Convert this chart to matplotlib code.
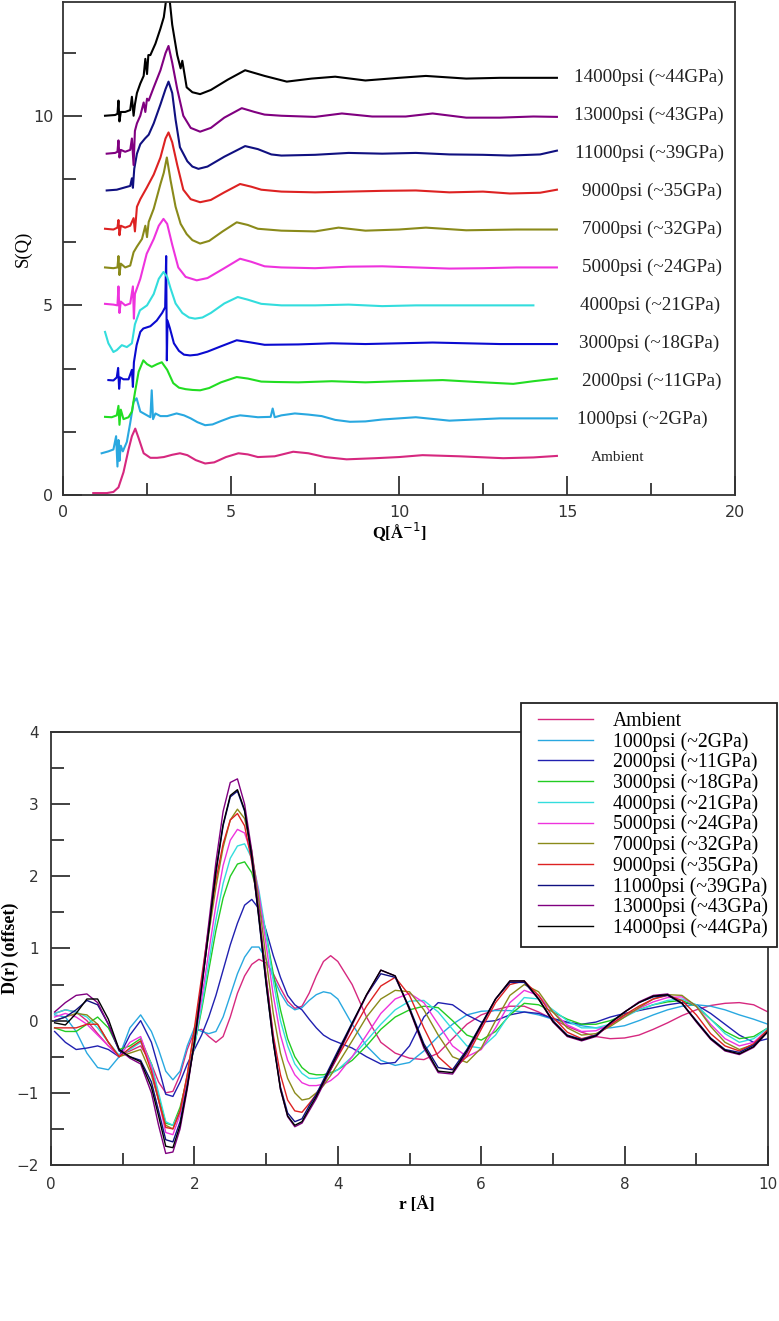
import matplotlib
matplotlib.use("Agg")
import matplotlib.pyplot as plt
from matplotlib.ticker import MultipleLocator
from matplotlib.lines import Line2D
from matplotlib.legend_handler import HandlerLine2D

# ---- top panel: S(Q), each curve shifted up by its offset ----
labels = ["Ambient", "1000psi (~2GPa)", "2000psi (~11GPa)", "3000psi (~18GPa)",
          "4000psi (~21GPa)", "5000psi (~24GPa)", "7000psi (~32GPa)",
          "9000psi (~35GPa)", "11000psi (~39GPa)", "13000psi (~43GPa)",
          "14000psi (~44GPa)"]
offsets = [0, 1, 2, 3, 4, 5, 6, 7, 8, 9, 10]

top_colors = ["#d6287f", "#29a8e0", "#22dd22", "#0a0ad0", "#33dddd", "#ee33dd",
              "#8a8a1a", "#dd2222", "#101080", "#800080", "#000000"]
bot_colors = ["#d6287f", "#29a8e0", "#2020b0", "#22cc22", "#33dddd", "#ee33dd",
              "#8a8a1a", "#dd2222", "#101080", "#800080", "#000000"]

q_amb = [0.9, 1.3, 1.5, 1.65, 1.8, 1.95, 2.05, 2.15, 2.25, 2.4, 2.6, 2.8, 3.0, 3.25, 3.48,
         3.7, 3.95, 4.23, 4.5, 4.85, 5.22, 5.5, 5.8, 6.3, 6.85, 7.3, 7.8, 8.44, 9.3, 10.0,
         10.7, 11.8, 13.1, 14.0, 14.7]
s_amb = [0.05, 0.05, 0.08, 0.2, 0.6, 1.2, 1.55, 1.75, 1.5, 1.1, 0.98, 0.98, 1.0, 1.06, 1.1,
         1.05, 0.92, 0.83, 0.86, 1.0, 1.1, 1.07, 1.0, 1.02, 1.14, 1.1, 1.0, 0.94, 0.97, 1.0,
         1.05, 1.02, 0.97, 0.99, 1.03]

q_1000 = [1.15, 1.35, 1.5, 1.58, 1.62, 1.65, 1.68, 1.72, 1.78, 1.9, 2.0, 2.1, 2.19, 2.3, 2.5,
          2.6, 2.64, 2.68, 2.75, 2.9, 3.1, 3.38, 3.6, 3.8, 4.0, 4.23, 4.45, 4.7, 5.0, 5.27,
          5.5, 5.8, 6.18, 6.24, 6.3, 6.5, 6.9, 7.3, 7.7, 8.1, 8.54, 9.0, 9.5, 10.0, 10.5,
          11.5, 13.0, 14.7]
s_1000 = [0.1, 0.15, 0.2, 0.55, -0.25, 0.45, -0.1, 0.3, 0.15, 0.4, 0.9, 1.45, 1.55, 1.2, 1.1,
          1.05, 1.76, 1.0, 1.15, 1.08, 1.08, 1.15, 1.1, 1.02, 0.92, 0.84, 0.86, 0.95, 1.05, 1.1,
          1.08, 1.05, 1.06, 1.28, 1.05, 1.1, 1.15, 1.12, 1.08, 0.98, 0.93, 0.94, 0.99, 1.02,
          1.05, 0.96, 1.02, 1.02]

q_2000 = [1.25, 1.45, 1.6, 1.65, 1.68, 1.72, 1.8, 1.95, 2.05, 2.14, 2.25, 2.39, 2.5, 2.64,
          2.8, 2.94, 3.1, 3.28, 3.45, 3.65, 3.85, 4.08, 4.35, 4.7, 5.17, 5.5, 5.9, 6.3, 7.0,
          8.0, 9.0, 10.0, 11.3, 12.3, 13.4, 14.0, 14.7]
s_2000 = [0.06, 0.05, 0.1, 0.35, -0.15, 0.25, 0.0, 0.05, 0.2, 0.7, 1.25, 1.55, 1.45, 1.38,
          1.45, 1.5, 1.3, 0.95, 0.83, 0.79, 0.77, 0.76, 0.82, 0.97, 1.11, 1.07, 0.99, 0.98,
          0.97, 1.0, 0.97, 1.0, 1.03, 0.98, 0.93, 1.0, 1.07]

q_3000 = [1.35, 1.5, 1.6, 1.64, 1.67, 1.7, 1.8, 1.95, 2.05, 2.08, 2.11, 2.19, 2.3, 2.39, 2.6,
          2.79, 2.95, 3.04, 3.07, 3.09, 3.11, 3.18, 3.3, 3.45, 3.6, 3.78, 4.0, 4.3, 4.7, 5.17,
          5.6, 6.0, 7.0, 8.0, 9.0, 10.0, 11.0, 12.0, 13.0, 14.7]
s_3000 = [0.03, 0.02, 0.1, 0.35, -0.2, 0.1, 0.05, 0.05, 0.3, -0.15, 0.5, 0.95, 1.3, 1.39, 1.45,
          1.6, 1.8, 1.95, 3.3, 0.55, 1.6, 1.4, 1.0, 0.8, 0.7, 0.68, 0.7, 0.78, 0.92, 1.08,
          1.02, 0.96, 0.97, 1.0, 0.98, 1.0, 1.02, 1.0, 0.98, 0.98]

q_4000 = [1.25, 1.35, 1.5, 1.6, 1.75, 1.9, 2.05, 2.14, 2.29, 2.5, 2.7, 2.85, 2.99, 3.1, 3.2,
          3.35, 3.55, 3.75, 3.93, 4.15, 4.4, 4.8, 5.2, 5.5, 5.9, 6.5, 7.5, 8.5, 9.5, 10.5,
          11.5, 12.5, 13.3, 14.0]
s_4000 = [0.3, 0.0, -0.23, -0.18, -0.05, -0.1, 0.0, 0.5, 0.87, 1.0, 1.3, 1.7, 1.88, 1.75, 1.45,
          1.05, 0.8, 0.68, 0.65, 0.68, 0.8, 1.05, 1.22, 1.15, 1.04, 1.0, 1.0, 1.02, 0.98, 1.0,
          1.0, 1.0, 1.0, 1.0]

q_5000 = [1.25, 1.5, 1.62, 1.65, 1.68, 1.72, 1.85, 2.0, 2.08, 2.11, 2.14, 2.3, 2.49, 2.7, 2.85,
          2.99, 3.1, 3.25, 3.43, 3.65, 3.98, 4.3, 4.8, 5.27, 5.6, 6.0, 6.5, 7.5, 8.5, 9.5,
          10.5, 11.5, 12.5, 13.5, 14.7]
s_5000 = [0.04, 0.02, 0.0, 0.5, -0.2, 0.1, 0.0, 0.05, 0.5, -0.35, 0.3, 0.7, 1.36, 1.75, 2.1,
          2.28, 2.15, 1.6, 1.0, 0.75, 0.66, 0.72, 0.98, 1.23, 1.15, 1.03, 1.0, 0.98, 1.02, 1.03,
          1.0, 0.97, 0.98, 1.0, 1.0]

q_7000 = [1.25, 1.5, 1.62, 1.65, 1.68, 1.72, 1.85, 2.0, 2.1, 2.2, 2.35, 2.45, 2.5, 2.55, 2.7,
          2.9, 3.0, 3.09, 3.2, 3.35, 3.5, 3.68, 3.85, 4.08, 4.35, 4.75, 5.17, 5.5, 5.8, 6.5,
          7.5, 8.2, 9.0, 10.0, 10.8, 12.0, 13.5, 14.7]
s_7000 = [0.0, -0.02, 0.0, 0.3, -0.2, 0.1, 0.0, 0.05, 0.4, 0.55, 0.75, 1.1, 0.8, 1.2, 1.55,
          2.2, 2.5, 2.9, 2.3, 1.6, 1.15, 0.88, 0.72, 0.63, 0.7, 0.95, 1.19, 1.12, 1.02, 0.97,
          0.95, 1.05, 0.97, 1.0, 1.05, 0.98, 1.0, 1.0]

q_9000 = [1.25, 1.5, 1.62, 1.65, 1.68, 1.72, 1.85, 2.0, 2.1, 2.14, 2.2, 2.3, 2.49, 2.7, 2.9,
          3.05, 3.14, 3.25, 3.4, 3.58, 3.8, 4.08, 4.4, 4.8, 5.27, 5.6, 5.9, 6.5, 7.5, 8.5,
          9.5, 10.5, 11.5, 12.5, 13.3, 14.2, 14.7]
s_9000 = [0.02, 0.0, 0.05, 0.25, -0.15, 0.1, 0.05, 0.1, 0.3, -0.05, 0.6, 0.8, 1.1, 1.45, 1.9,
          2.4, 2.56, 2.3, 1.7, 1.05, 0.8, 0.72, 0.78, 0.98, 1.2, 1.13, 1.05, 1.0, 0.98, 1.0,
          1.02, 1.03, 0.98, 1.0, 0.95, 0.97, 1.05]

q_11000 = [1.3, 1.6, 1.8, 2.0, 2.05, 2.08, 2.12, 2.2, 2.3, 2.44, 2.55, 2.7, 2.9, 3.05, 3.14,
           3.25, 3.35, 3.48, 3.7, 3.85, 4.03, 4.3, 4.8, 5.42, 5.8, 6.2, 6.5, 7.5, 8.5, 9.5,
           10.5, 11.5, 12.5, 13.3, 14.2, 14.7]
s_11000 = [0.03, 0.05, 0.1, 0.15, 0.35, 0.1, 0.6, 1.0, 1.25, 1.4, 1.5, 1.8, 2.3, 2.7, 2.9,
           2.6, 1.9, 1.17, 0.8, 0.66, 0.6, 0.66, 0.92, 1.2, 1.12, 0.98, 0.95, 0.97, 1.02, 1.0,
           1.02, 0.98, 0.97, 0.95, 0.98, 1.08]

q_13000 = [1.3, 1.55, 1.62, 1.65, 1.68, 1.72, 1.85, 2.0, 2.05, 2.1, 2.14, 2.2, 2.3, 2.4, 2.45,
           2.5, 2.55, 2.7, 2.9, 3.05, 3.14, 3.25, 3.4, 3.58, 3.8, 4.08, 4.4, 4.8, 5.32, 5.7,
           6.0, 6.5, 7.5, 8.3, 9.2, 10.2, 11.0, 12.0, 13.0, 14.0, 14.7]
s_13000 = [0.0, 0.02, 0.05, 0.35, -0.1, 0.1, 0.05, 0.1, 0.4, -0.3, 0.6, 0.8, 1.0, 1.35, 1.1,
           1.45, 1.4, 1.75, 2.2, 2.65, 2.84, 2.4, 1.7, 1.0, 0.68, 0.58, 0.68, 0.95, 1.2, 1.1,
           1.03, 1.0, 0.97, 1.06, 0.98, 0.98, 1.06, 0.95, 0.95, 0.98, 0.97]

q_14000 = [1.25, 1.55, 1.62, 1.65, 1.68, 1.72, 1.85, 2.0, 2.05, 2.1, 2.14, 2.2, 2.3, 2.4,
           2.45, 2.5, 2.54, 2.6, 2.75, 2.9, 3.0, 3.06, 3.1, 3.14, 3.18, 3.25, 3.4, 3.5, 3.55,
           3.68, 3.85, 4.08, 4.4, 4.9, 5.42, 6.0, 6.66, 7.4, 8.1, 9.0, 10.0, 10.8, 12.0, 13.0,
           14.0, 14.7]
s_14000 = [0.0, 0.02, 0.05, 0.4, -0.15, 0.1, 0.1, 0.15, 0.5, 0.0, 0.3, 0.6, 0.85, 1.05, 1.5,
           1.1, 1.6, 1.6, 1.9, 2.3, 2.6, 3.0, 3.2, 3.2, 3.0, 2.4, 1.6, 1.25, 1.45, 0.75, 0.62,
           0.57, 0.68, 0.95, 1.2, 1.05, 0.9, 0.98, 1.03, 0.93, 1.0, 1.05, 0.98, 1.0, 1.0, 1.0]

q_list = [q_amb, q_1000, q_2000, q_3000, q_4000, q_5000, q_7000, q_9000, q_11000, q_13000, q_14000]
s_list = [s_amb, s_1000, s_2000, s_3000, s_4000, s_5000, s_7000, s_9000, s_11000, s_13000, s_14000]

# where the text labels sit next to the curves
label_x = [15.7, 15.3, 15.45, 15.35, 15.4, 15.45, 15.45, 15.45, 15.25, 15.2, 15.2]

# ---- bottom panel: D(r) ----
r = [0.05, 0.2, 0.35, 0.5, 0.65, 0.8, 0.95, 1.1, 1.25, 1.4, 1.5, 1.6, 1.7, 1.8, 1.9, 2.0,
     2.1, 2.2, 2.3, 2.4, 2.5, 2.6, 2.7, 2.8, 2.9, 3.0, 3.1, 3.2, 3.3, 3.4, 3.5, 3.6, 3.7,
     3.8, 3.9, 4.0, 4.2, 4.4, 4.6, 4.8, 5.0, 5.2, 5.4, 5.6, 5.8, 6.0, 6.2, 6.4, 6.6, 6.8,
     7.0, 7.2, 7.4, 7.6, 7.8, 8.0, 8.2, 8.4, 8.6, 8.8, 9.0, 9.2, 9.4, 9.6, 9.8, 10.0]

d_amb = [0.1, 0.15, 0.12, 0.0, -0.18, -0.35, -0.48, -0.42, -0.35, -0.6, -0.85, -1.0, -0.98,
         -0.75, -0.4, -0.15, -0.12, -0.22, -0.3, -0.22, 0.05, 0.38, 0.62, 0.78, 0.85, 0.8,
         0.65, 0.45, 0.27, 0.17, 0.2, 0.38, 0.62, 0.82, 0.9, 0.82, 0.5, 0.05, -0.3, -0.45,
         -0.52, -0.54, -0.45, -0.25, -0.05, 0.08, 0.15, 0.2, 0.2, 0.12, 0.02, -0.08, -0.16,
         -0.22, -0.25, -0.24, -0.2, -0.12, -0.03, 0.07, 0.15, 0.21, 0.24, 0.25, 0.22, 0.12]
d_1000 = [0.08, 0.05, -0.15, -0.45, -0.65, -0.68, -0.5, -0.1, 0.08, -0.15, -0.4, -0.7, -0.82,
          -0.7, -0.35, -0.1, -0.15, -0.18, -0.15, 0.05, 0.35, 0.65, 0.88, 1.02, 1.02, 0.85,
          0.6, 0.38, 0.22, 0.15, 0.18, 0.28, 0.36, 0.4, 0.38, 0.3, -0.05, -0.35, -0.55, -0.62,
          -0.58, -0.42, -0.22, -0.05, 0.08, 0.13, 0.14, 0.14, 0.12, 0.08, 0.02, -0.03, -0.07,
          -0.1, -0.1, -0.07, 0.0, 0.08, 0.15, 0.2, 0.22, 0.2, 0.15, 0.08, 0.02, -0.05]
d_2000 = [-0.15, -0.3, -0.4, -0.38, -0.35, -0.4, -0.5, -0.2, 0.0, -0.3, -0.65, -1.02, -1.05,
          -0.85, -0.6, -0.4, -0.2, 0.05, 0.35, 0.7, 1.05, 1.35, 1.6, 1.68, 1.55, 1.25, 0.9,
          0.6, 0.35, 0.22, 0.15, 0.02, -0.1, -0.2, -0.26, -0.3, -0.38, -0.5, -0.6, -0.58,
          -0.35, 0.05, 0.25, 0.22, 0.08, -0.02, 0.0, 0.08, 0.12, 0.1, 0.03, -0.02, -0.05,
          -0.02, 0.05, 0.1, 0.14, 0.18, 0.22, 0.25, 0.22, 0.1, -0.05, -0.2, -0.3, -0.25]
d_3000 = [-0.1, -0.15, -0.15, -0.05, 0.05, -0.1, -0.4, -0.35, -0.25, -0.6, -1.05, -1.42, -1.45,
          -1.2, -0.8, -0.35, 0.15, 0.7, 1.25, 1.7, 2.0, 2.17, 2.2, 2.05, 1.7, 1.2, 0.65, 0.15,
          -0.25, -0.5, -0.65, -0.73, -0.75, -0.75, -0.72, -0.68, -0.55, -0.35, -0.12, 0.05,
          0.15, 0.2, 0.18, 0.0, -0.2, -0.27, -0.15, 0.08, 0.24, 0.22, 0.12, 0.02, -0.05, -0.05,
          0.0, 0.08, 0.15, 0.22, 0.26, 0.28, 0.2, 0.02, -0.15, -0.25, -0.22, -0.1]
d_4000 = [0.1, 0.15, 0.12, 0.05, -0.1, -0.3, -0.48, -0.4, -0.3, -0.6, -1.0, -1.4, -1.45,
          -1.25, -0.85, -0.35, 0.2, 0.8, 1.4, 1.9, 2.25, 2.42, 2.45, 2.25, 1.8, 1.2, 0.55, 0.0,
          -0.35, -0.6, -0.73, -0.8, -0.8, -0.78, -0.74, -0.68, -0.5, -0.28, -0.05, 0.15, 0.27,
          0.28, 0.12, -0.12, -0.35, -0.38, -0.2, 0.1, 0.32, 0.3, 0.15, 0.0, -0.1, -0.1, -0.05,
          0.05, 0.15, 0.22, 0.28, 0.3, 0.22, 0.02, -0.18, -0.3, -0.25, -0.1]
d_5000 = [0.05, 0.1, 0.05, -0.05, -0.2, -0.35, -0.5, -0.3, -0.22, -0.65, -1.1, -1.55, -1.58,
          -1.3, -0.85, -0.3, 0.3, 0.95, 1.6, 2.15, 2.5, 2.65, 2.6, 2.3, 1.75, 1.05, 0.35, -0.2,
          -0.55, -0.75, -0.86, -0.9, -0.9, -0.88, -0.83, -0.75, -0.5, -0.2, 0.1, 0.3, 0.38,
          0.25, -0.05, -0.35, -0.5, -0.4, -0.1, 0.25, 0.42, 0.35, 0.12, -0.06, -0.15, -0.14,
          -0.05, 0.06, 0.17, 0.26, 0.32, 0.33, 0.2, -0.05, -0.25, -0.35, -0.3, -0.12]
d_7000 = [0.0, 0.05, 0.1, 0.08, -0.05, -0.3, -0.5, -0.45, -0.4, -0.75, -1.1, -1.45, -1.5,
          -1.25, -0.75, -0.15, 0.5, 1.2, 1.85, 2.4, 2.78, 2.93, 2.8, 2.35, 1.65, 0.85, 0.1,
          -0.45, -0.8, -1.0, -1.1, -1.08, -1.0, -0.9, -0.76, -0.6, -0.28, 0.05, 0.3, 0.42, 0.4,
          0.15, -0.2, -0.5, -0.58, -0.38, 0.0, 0.35, 0.5, 0.4, 0.12, -0.1, -0.2, -0.18, -0.08,
          0.05, 0.18, 0.3, 0.36, 0.35, 0.2, -0.08, -0.3, -0.4, -0.33, -0.12]
d_9000 = [-0.1, -0.1, -0.1, -0.05, -0.05, -0.3, -0.5, -0.38, -0.28, -0.7, -1.1, -1.48, -1.5,
          -1.25, -0.75, -0.1, 0.6, 1.3, 1.95, 2.45, 2.78, 2.87, 2.7, 2.2, 1.45, 0.6, -0.2,
          -0.75, -1.1, -1.25, -1.27, -1.15, -1.02, -0.85, -0.68, -0.5, -0.15, 0.2, 0.48, 0.6,
          0.35, -0.1, -0.5, -0.68, -0.5, -0.12, 0.25, 0.5, 0.55, 0.35, 0.05, -0.16, -0.25,
          -0.2, -0.06, 0.08, 0.2, 0.3, 0.35, 0.28, 0.08, -0.18, -0.35, -0.42, -0.32, -0.13]
d_11000 = [0.0, 0.05, 0.15, 0.28, 0.22, -0.05, -0.42, -0.5, -0.55, -0.85, -1.25, -1.65, -1.68,
           -1.4, -0.9, -0.3, 0.45, 1.25, 2.05, 2.7, 3.1, 3.18, 2.9, 2.25, 1.4, 0.5, -0.3,
           -0.92, -1.28, -1.4, -1.36, -1.18, -1.02, -0.82, -0.62, -0.42, -0.03, 0.35, 0.65,
           0.6, 0.18, -0.32, -0.65, -0.68, -0.4, -0.05, 0.3, 0.53, 0.53, 0.3, 0.0, -0.2, -0.26,
           -0.2, -0.03, 0.12, 0.25, 0.33, 0.35, 0.24, 0.0, -0.24, -0.4, -0.44, -0.34, -0.15]
d_13000 = [0.12, 0.25, 0.35, 0.37, 0.25, -0.05, -0.4, -0.52, -0.6, -1.0, -1.45, -1.84, -1.82,
           -1.5, -0.95, -0.3, 0.5, 1.35, 2.2, 2.9, 3.3, 3.35, 3.0, 2.35, 1.5, 0.6, -0.25,
           -0.95, -1.33, -1.47, -1.42, -1.25, -1.08, -0.88, -0.68, -0.48, -0.06, 0.35, 0.7,
           0.62, 0.15, -0.38, -0.72, -0.74, -0.45, -0.08, 0.3, 0.55, 0.55, 0.3, -0.02, -0.22,
           -0.28, -0.22, -0.04, 0.12, 0.26, 0.35, 0.37, 0.24, -0.02, -0.26, -0.42, -0.47,
           -0.37, -0.15]
d_14000 = [-0.03, -0.06, 0.1, 0.3, 0.3, 0.02, -0.4, -0.5, -0.57, -0.92, -1.32, -1.74, -1.76,
           -1.45, -0.92, -0.3, 0.45, 1.25, 2.08, 2.72, 3.12, 3.2, 2.92, 2.28, 1.42, 0.52, -0.3,
           -0.95, -1.32, -1.45, -1.4, -1.22, -1.05, -0.85, -0.65, -0.45, -0.04, 0.36, 0.7,
           0.62, 0.16, -0.35, -0.7, -0.72, -0.42, -0.06, 0.3, 0.55, 0.55, 0.3, -0.01, -0.21,
           -0.27, -0.21, -0.03, 0.12, 0.25, 0.34, 0.36, 0.24, -0.01, -0.25, -0.41, -0.46,
           -0.36, -0.15]

d_list = [d_amb, d_1000, d_2000, d_3000, d_4000, d_5000, d_7000, d_9000, d_11000, d_13000, d_14000]

plt.rcParams["font.family"] = ["Liberation Serif", "DejaVu Serif"]

fig = plt.figure(figsize=(7.79, 13.21), dpi=100)

# top axes
ax1 = fig.add_axes([0.0809, 0.6253, 0.8626, 0.3732])
for q, s, off, c in zip(q_list, s_list, offsets, top_colors):
    ax1.plot(q, [v + off for v in s], color=c, lw=1.5)
for lab, off, lx in zip(labels, offsets, label_x):
    fs = 11 if lab == "Ambient" else 13.8
    ax1.text(lx, off + 1.0, lab, fontsize=fs, va="center", ha="left", color="#222222")
ax1.set_xlim(0, 20)
ax1.set_ylim(0, 13)
ax1.xaxis.set_major_locator(MultipleLocator(5))
ax1.xaxis.set_minor_locator(MultipleLocator(2.5))
ax1.yaxis.set_major_locator(MultipleLocator(5))
ax1.yaxis.set_minor_locator(MultipleLocator(5 / 3))
ax1.tick_params(which="both", direction="in", top=False, right=False, width=1.3,
                pad=7, colors="#333333")
ax1.tick_params(which="major", length=14)
ax1.tick_params(which="minor", length=9)
for lab in ax1.get_xticklabels() + ax1.get_yticklabels():
    lab.set_family("DejaVu Sans")
    lab.set_fontsize(11.5)
for sp in ax1.spines.values():
    sp.set_linewidth(1.3)
    sp.set_color("#333333")
ax1.set_ylabel("S(Q)", fontsize=13.5)
ax1.yaxis.set_label_coords(-0.046, 0.5)
ax1.set_xlabel("Q[Å$^{-1}$]", fontsize=12, fontweight="bold")
ax1.xaxis.set_label_coords(0.5, -0.05)

# bottom axes
ax2 = fig.add_axes([0.0655, 0.1181, 0.9204, 0.3278])
for d, c, lab in zip(d_list, bot_colors, labels):
    ax2.plot(r, d, color=c, lw=1.0, label=lab)
ax2.set_xlim(0, 10)
ax2.set_ylim(-2, 4)
ax2.xaxis.set_major_locator(MultipleLocator(2))
ax2.xaxis.set_minor_locator(MultipleLocator(1))
ax2.yaxis.set_major_locator(MultipleLocator(1))
ax2.yaxis.set_minor_locator(MultipleLocator(0.5))
ax2.tick_params(which="both", direction="in", top=False, right=False, width=1.3,
                pad=9, colors="#333333")
ax2.tick_params(which="major", length=14)
ax2.tick_params(which="minor", length=9)
ax2.yaxis.set_major_formatter(plt.FuncFormatter(lambda v, p: "%d" % v if v >= 0 else "\u2212%d" % -v))
for lab in ax2.get_xticklabels() + ax2.get_yticklabels():
    lab.set_family("DejaVu Sans")
    lab.set_fontsize(11)
for sp in ax2.spines.values():
    sp.set_linewidth(1.3)
    sp.set_color("#333333")
ax2.set_ylabel("D(r) (offset)", fontsize=13, fontweight="bold")
ax2.yaxis.set_label_coords(-0.045, 0.5)
ax2.set_xlabel("r [Å]", fontsize=12.5, fontweight="bold")
ax2.xaxis.set_label_coords(0.51, -0.075)

leg = ax2.legend(loc="upper right", bbox_to_anchor=(777 / 779, 1 - 703 / 1321),
                 bbox_transform=fig.transFigure, borderaxespad=0, fontsize=14.2,
                 frameon=True, fancybox=False, handlelength=3.2, handletextpad=1.0,
                 labelspacing=0.05, borderpad=0.45,
                 handler_map={Line2D: HandlerLine2D(xpad=0.4)})
leg.get_frame().set_edgecolor("#222222")
leg.get_frame().set_linewidth(1.3)
leg.get_frame().set_alpha(1)

fig.savefig("out.png", dpi=100)
